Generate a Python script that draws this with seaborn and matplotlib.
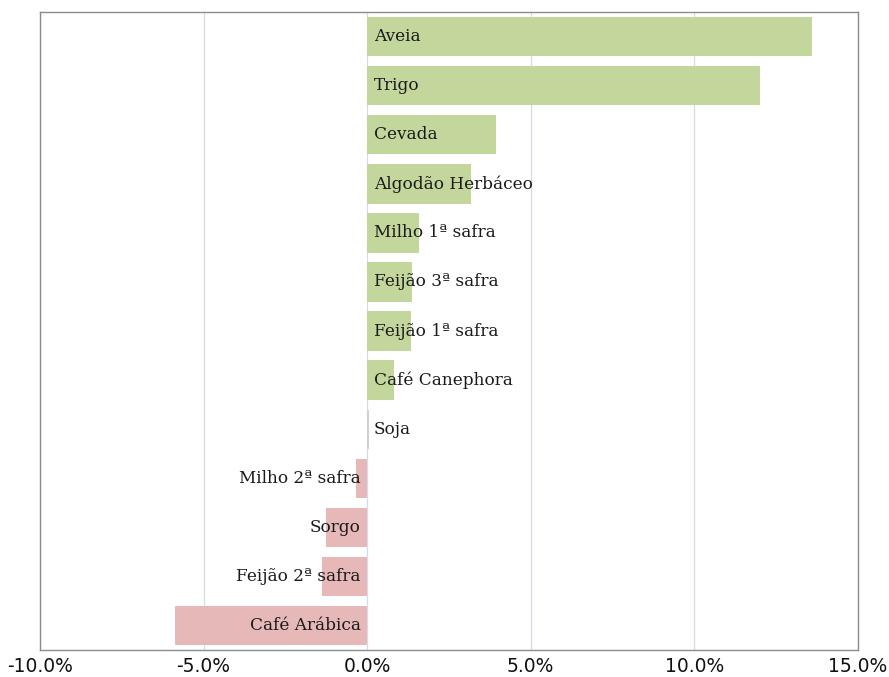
import pandas as pd
import matplotlib
matplotlib.use("Agg")
import matplotlib.pyplot as plt
import seaborn as sns

# Values (percent change)
culturas = ["Aveia", "Trigo", "Cevada", "Algodão Herbáceo", "Milho 1ª safra",
            "Feijão 3ª safra", "Feijão 1ª safra", "Café Canephora", "Soja",
            "Milho 2ª safra", "Sorgo", "Feijão 2ª safra", "Café Arábica"]
variacao = [13.6, 12.0, 3.93, 3.17, 1.59, 1.37, 1.34, 0.82, 0.06,
            -0.34, -1.25, -1.37, -5.88]
ticks_x = [-10, -5, 0, 5, 10, 15]
ticks_txt = ["-10.0%", "-5.0%", "0.0%", "5.0%", "10.0%", "15.0%"]

df = pd.DataFrame({"cultura": culturas, "variacao": variacao})

def cor(v):
    if abs(v) < 0.1:
        return "#D0D0D0"
    return "#C3D69B" if v > 0 else "#E6B9B8"

cores = [cor(v) for v in df["variacao"]]

sns.set_theme(style="white")
fig = plt.figure(figsize=(8.89, 6.77), dpi=100)
ax = fig.add_axes([0.045, 0.04, 0.92, 0.942])

sns.barplot(data=df, x="variacao", y="cultura", hue="cultura", palette=cores,
            legend=False, width=0.8, saturation=1, linewidth=0, ax=ax, orient="h")

ax.set_xlim(-10, 15)
ax.set_xticks(ticks_x, labels=ticks_txt)
ax.grid(axis="x", color="#D5DCE6", linewidth=0.9)
ax.set_axisbelow(True)
ax.set_yticks([])
ax.set_xlabel("")
ax.set_ylabel("")
ax.tick_params(axis="x", length=0, pad=5, labelsize=13.5, labelcolor="#111111")
for lab in ax.get_xticklabels():
    lab.set_family(["Liberation Sans Narrow", "DejaVu Sans"])
for s in ax.spines.values():
    s.set_color("#8C8C8C")
    s.set_linewidth(1.0)

# labels next to the zero line
for i, (nome, v) in enumerate(zip(culturas, variacao)):
    if v >= 0:
        ax.text(0.2, i, nome, ha="left", va="center", fontsize=12.2,
                family=["DejaVu Serif"], color="#1a1a1a")
    else:
        ax.text(-0.2, i, nome, ha="right", va="center", fontsize=12.2,
                family=["DejaVu Serif"], color="#1a1a1a")

fig.savefig("out.png", dpi=100)
